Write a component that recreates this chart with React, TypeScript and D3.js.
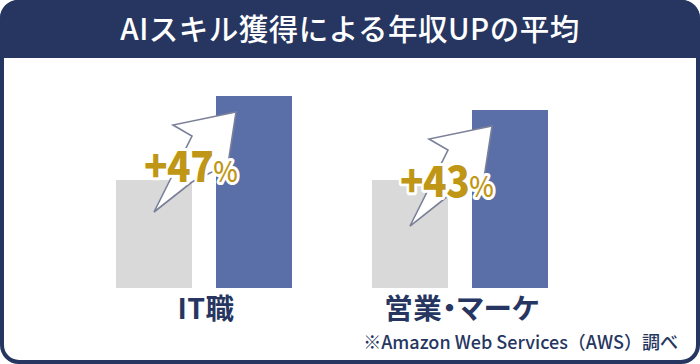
import React from "react";
import * as d3 from "d3";

const title = "AIスキル獲得による年収UPの平均";
const categories = ["IT職", "営業・マーケ"];
const series = ["before", "after"];
const beforeValues = [56.25, 56.25];
const afterValues = [100, 92.7];
const upliftNumbers = ["+47", "+43"];
const note = "※Amazon Web Services（AWS）調べ";

const NAVY = "#263661";
const FONT = "'Noto Sans CJK JP', 'Noto Sans', sans-serif";

const x0 = d3.scaleBand<string>().domain(categories).range([116, 548]).paddingInner(0.3125);
const x1 = d3.scaleBand<string>().domain(series).range([0, x0.bandwidth()]).paddingInner(0.24);
const y = d3.scaleLinear().domain([0, 100]).range([288, 96]);

// bolt outline, relative to the group's left edge and the after-bar top
const boltShape: [number, number][] = [
  [120, 16], [57, 29], [76, 40], [38, 116], [76, 86], [112, 68],
];
const bolt = d3.line().curve(d3.curveLinearClosed);

export default function App() {
  return (
    <svg
      width={700}
      height={364}
      viewBox="0 0 700 364"
      style={{ position: "absolute", left: 0, top: 0, display: "block", background: "#fff" }}
      fontFamily={FONT}
    >
      <rect x={2} y={2} width={696} height={360} rx={17} fill="#fff" stroke={NAVY} strokeWidth={4} />
      <path d="M0 58V18A18 18 0 0 1 18 0H682A18 18 0 0 1 700 18V58Z" fill={NAVY} />
      <text x={350} y={40} textAnchor="middle" fontSize={29.5} fontWeight={500} fill="#fff" letterSpacing={0.5}>
        {title}
      </text>

      {categories.map((c, i) => {
        const gx = x0(c)!;
        const cx = gx + x0.bandwidth() / 2;
        const topAfter = y(afterValues[i]);
        const pts = boltShape.map(([dx, dy]) => [gx + dx, topAfter + dy] as [number, number]);
        const tx = i === 0 ? 144 : 400;
        const ty = i === 0 ? 181.5 : 196.5;
        return (
          <g key={c}>
            <rect x={gx + x1("before")!} y={y(beforeValues[i])} width={x1.bandwidth()} height={y(0) - y(beforeValues[i])} fill="#d9d9d9" />
            <rect x={gx + x1("after")!} y={topAfter} width={x1.bandwidth()} height={y(0) - topAfter} fill="#5a6fa8" />
            <path d={bolt(pts)!} fill="#fff" stroke="#7b8099" strokeWidth={1.6} strokeLinejoin="miter" />
            <text transform={`translate(${tx},${ty}) scale(0.9,1)`} fill="#bf9616" stroke="#fff" strokeWidth={6} strokeLinejoin="round" paintOrder="stroke" fontWeight={900}>
              <tspan fontSize={43} letterSpacing={-0.5}>{upliftNumbers[i]}</tspan>
              <tspan fontSize={29} fontWeight={500}>%</tspan>
            </text>
            <text x={cx + 2} y={318.5} textAnchor="middle" fontSize={28.5} letterSpacing={0.5} fontWeight={700} fill={NAVY} style={{ fontFeatureSettings: "'palt'" }}>{c}</text>
          </g>
        );
      })}

      <text x={678} y={349} textAnchor="end" fontSize={18} fontWeight={500} fill={NAVY}>{note}</text>
    </svg>
  );
}
